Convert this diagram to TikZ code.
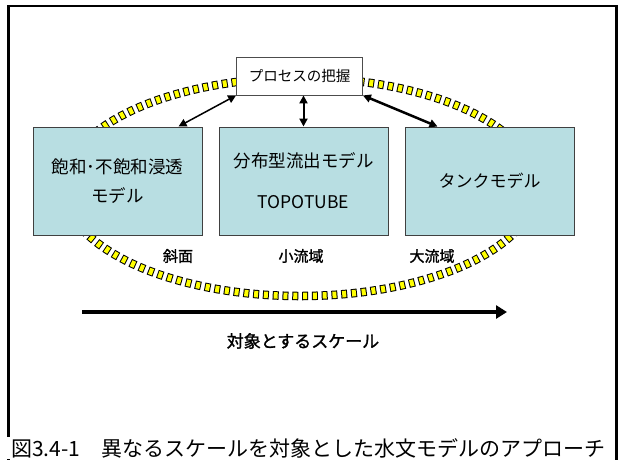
\documentclass[tikz,border=0pt]{standalone}
\usepackage{fontspec}
\setmainfont{Noto Sans CJK JP}
\newfontfamily\jpb[FakeBold=1.5]{Noto Sans CJK JP}
\usetikzlibrary{arrows.meta}
\definecolor{boxfill}{HTML}{B8DEE2}
\definecolor{dotyellow}{HTML}{FFFF00}
\begin{document}
\begin{tikzpicture}[x=1pt,y=-1pt,
  modelbox/.style={draw=black!75, line width=1pt, fill=boxfill, inner sep=0pt, align=center,
    minimum width=169pt, minimum height=108pt},
  topbox/.style={draw=black!70, line width=0.8pt, fill=white, inner sep=0pt,
    minimum width=126pt, minimum height=38pt, font=\fontsize{14.5}{16}\selectfont},
  lab/.style={font=\jpb\fontsize{15}{17}\selectfont, inner sep=0pt},
  dbl/.style={{Triangle[length=8pt,width=8pt]}-{Triangle[length=8pt,width=8pt]}}
]
\useasboundingbox (0,0) rectangle (621,459);
% frame
\draw[line width=2.5pt] (8.5,6) rectangle (616.5,480);
% dotted ellipse
\draw[black, line width=8.5pt, dash pattern=on 6pt off 3.8pt] (300,187) ellipse [x radius=236pt, y radius=109pt];
\draw[dotyellow, line width=6.5pt, dash pattern=on 4pt off 5.8pt, dash phase=-1pt] (300,187) ellipse [x radius=236pt, y radius=109pt];
% boxes
\node[modelbox, font=\fontsize{17.5}{29}\selectfont] (L) at (117.5,181) {飽和･不飽和浸透\\モデル};
\node[modelbox, font=\fontsize{17.5}{41}\selectfont] (M) at (303.5,181) {分布型流出モデル\\TOPOTUBE};
\node[modelbox, font=\fontsize{17}{20}\selectfont] (R) at (489.5,181) {タンクモデル};
\node[topbox] (T) at (299.5,76) {プロセスの把握};
% connectors
\draw[dbl, line width=1.5pt] ([xshift=-24pt]L.north east) -- (T.south west);
\draw[dbl, line width=2pt] (T.south -| M.north) -- (M.north);
\draw[dbl, line width=2.5pt] (T.south east) -- ([xshift=33pt]R.north west);
% labels
\node[lab] (l1) at (178,256) {斜面};
\node[lab] (l2) at (301,256) {小流域};
\node[lab] (l3) at (432,256) {大流域};
% scale arrow
\coordinate (s0) at (82,312);
\coordinate (s1) at (507,312);
\draw[line width=4.5pt, -{Triangle[length=11pt,width=13pt]}] (s0) -- (s1);
\node[font=\jpb\fontsize{17}{17}\selectfont, inner sep=0pt] (sc) at (303,341) {対象とするスケール};
% caption
\node[anchor=west, fill=white, inner sep=0pt, minimum height=22pt, font=\fontsize{21}{21}\selectfont] (cap) at (5,448) {\hspace{6pt}図3.4-1　異なるスケールを対象とした水文モデルのアプローチ};
\end{tikzpicture}
\end{document}
